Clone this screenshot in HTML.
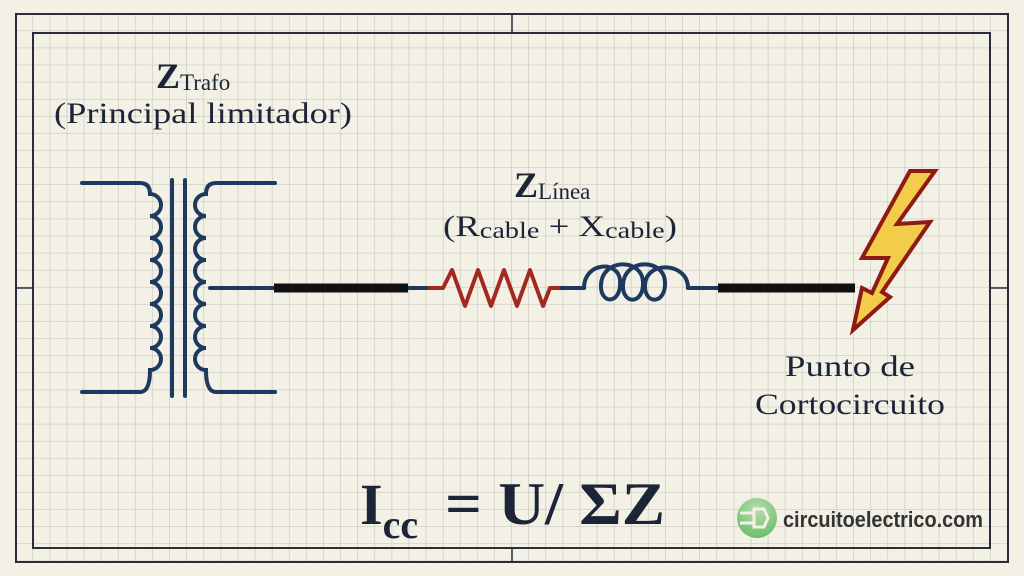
<!DOCTYPE html>
<html><head><meta charset="utf-8"><style>
html,body{margin:0;padding:0;background:#f2efe6;}
svg{display:block}
text{font-family:"Liberation Serif","DejaVu Serif",serif;fill:#1c2438;}
</style></head><body>
<svg width="1024" height="576" viewBox="0 0 1024 576" xmlns="http://www.w3.org/2000/svg">
<defs>
<pattern id="g" x="16" y="14" width="17.1" height="17.1" patternUnits="userSpaceOnUse">
<path d="M17.1 0V17.1M0 17.1H17.1" stroke="#c9c8c0" stroke-width="1.3" fill="none"/>
</pattern>
<radialGradient id="lg" cx="0.5" cy="0.3" r="0.7"><stop offset="0" stop-color="#b8dcae"/><stop offset="1" stop-color="#6cbf6a"/></radialGradient>
</defs>
<rect width="1024" height="576" fill="#f3f0e6"/>
<rect x="16" y="14" width="992" height="548" fill="url(#g)"/>
<rect x="16" y="14" width="992" height="548" fill="none" stroke="#2a2e3a" stroke-width="2"/>
<rect x="33" y="33" width="957" height="515" fill="none" stroke="#2a2e3a" stroke-width="2"/>
<path d="M512 14V33M512 548V562M16 288H33M990 288H1008" stroke="#2a2e3a" stroke-width="1.5"/>

<g fill="none" stroke="#1d3a5e" stroke-width="4" stroke-linecap="round">
<path d="M82 183H140Q150 183 150 194 A11 11 0 0 1 150 216 A11 11 0 0 1 150 238 A11 11 0 0 1 150 260 A11 11 0 0 1 150 282 A11 11 0 0 1 150 304 A11 11 0 0 1 150 326 A11 11 0 0 1 150 348 A11 11 0 0 1 150 370 Q150 392 140 392H82"/>
<path d="M172 180V396M185 180V396"/>
<path d="M275 183H216Q206 183 206 194 A11 11 0 0 0 206 216 A11 11 0 0 0 206 238 A11 11 0 0 0 206 260 A11 11 0 0 0 206 282 A11 11 0 0 0 206 304 A11 11 0 0 0 206 326 A11 11 0 0 0 206 348 A11 11 0 0 0 206 370 Q206 392 216 392H275"/>
<path d="M210 288H274"/>
<path d="M408 288H432M550 288H584M688 288H718" />
<path d="M584 288C584 262 618 260 620 280 C622 305 600 305 601 285 C602 258 642 258 643 282 C644 305 622 305 623 285 C624 258 664 258 665 282 C666 305 644 305 645 285 C646 260 688 262 688 288"/>
</g>
<path d="M274 288H408M718 288H855" stroke="#111" stroke-width="9"/>
<path d="M428 288H443L452 270L465 306L478 270L491 306L504 270L517 306L530 270L543 306L550 288H560" fill="none" stroke="#a3281f" stroke-width="4" stroke-linejoin="round"/>

<path d="M910 171L935 171L897 224L930 222L882 292L890 297L853 330L862 288L872 293L888 258L862 258Z" fill="#f3cc4a" stroke="#8e1a14" stroke-width="4" stroke-linejoin="miter"/>

<text x="156" y="88" font-size="36" font-weight="bold" style="font-weight:600">Z<tspan font-size="23" font-weight="normal" dy="2">Trafo</tspan></text>
<text x="54" y="123" font-size="30" textLength="298" lengthAdjust="spacingAndGlyphs">(Principal limitador)</text>
<text x="514" y="197" font-size="36" font-weight="bold">Z<tspan font-size="23" font-weight="normal" dy="2">Línea</tspan></text>
<text x="443" y="236" font-size="30" textLength="234" lengthAdjust="spacingAndGlyphs">(R<tspan font-size="23" dy="2">cable</tspan><tspan dy="-2"> + X</tspan><tspan font-size="23" dy="2">cable</tspan><tspan dy="-2">)</tspan></text>
<text x="785" y="376" font-size="30" textLength="130" lengthAdjust="spacingAndGlyphs">Punto de</text>
<text x="755" y="414" font-size="30" textLength="190" lengthAdjust="spacingAndGlyphs">Cortocircuito</text>
<text x="360" y="524" font-size="58" font-weight="bold">I<tspan font-size="40" dy="14">cc</tspan></text>
<text x="445" y="524" font-size="60" font-weight="bold" textLength="220" lengthAdjust="spacingAndGlyphs">= U/ ΣZ</text>

<circle cx="757" cy="518" r="20" fill="url(#lg)"/>
<path d="M740 513H754M740 523H754M754 509H764L768 518L764 527H754Z" stroke="#f3f0e6" stroke-width="3" fill="none"/>
<text x="783" y="527" font-size="22" font-weight="bold" style="font-family:'Liberation Sans',sans-serif;fill:#333" textLength="200" lengthAdjust="spacingAndGlyphs">circuitoelectrico.com</text>
</svg>
</body></html>
